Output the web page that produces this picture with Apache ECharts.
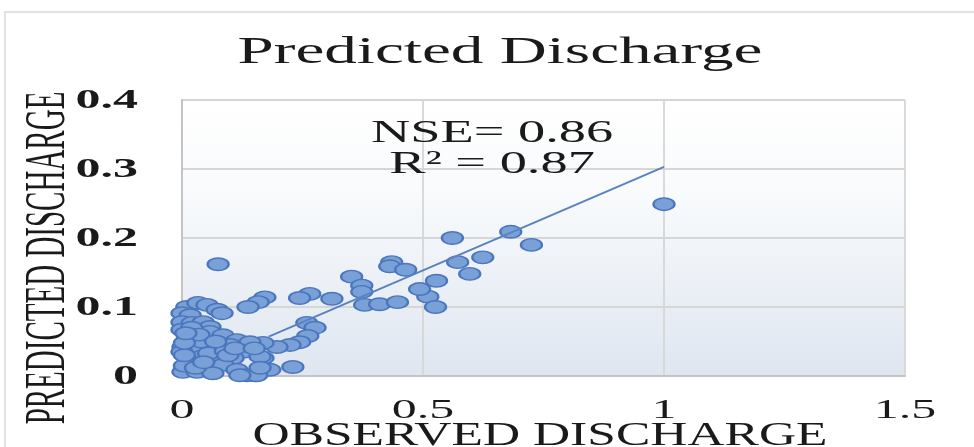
<!DOCTYPE html>
<html><head><meta charset="utf-8">
<script src="https://cdn.jsdelivr.net/npm/echarts/dist/echarts.min.js"></script>
<style>html,body{margin:0;padding:0;background:#fff}#c{width:974px;height:447px}</style>
</head><body><div id="c"></div>
<script>
// ---- data ----
const observedDischarge = [
  1.000, 0.561, 0.682, 0.725, 0.624, 0.572, 0.597, 0.528, 0.510, 0.526,
  0.493, 0.435, 0.431, 0.464, 0.352, 0.373, 0.373, 0.379, 0.410, 0.447,
  0.311, 0.265, 0.244, 0.172, 0.158, 0.137, 0.259, 0.276, 0.261, 0.244,
  0.224, 0.197, 0.168, 0.168, 0.182, 0.230, 0.151, 0.141, 0.075, 0.010,
  0.033, 0.052, 0.073, 0.083, 0.000, 0.017, 0.000, 0.021, 0.044, 0.058,
  0.058, 0.085, 0.114, 0.141, 0.010, 0.002, 0.031, 0.062, 0.100, 0.126,
  0.162, 0.012, 0.041, 0.072, 0.106, 0.017, 0.048, 0.085, 0.114, 0.002,
  0.031, 0.064, 0.135, 0.155, 0.162, 0.000, 0.000, 0.120, 0.005, 0.025,
  0.040, 0.005, 0.020, 0.035, 0.055, 0.090, 0.005, 0.028, 0.070, 0.095,
  0.110, 0.008, 0.045, 0.150
];
const predictedDischarge = [
  0.249, 0.200, 0.209, 0.190, 0.172, 0.165, 0.148, 0.138, 0.115, 0.100,
  0.126, 0.165, 0.159, 0.154, 0.144, 0.131, 0.122, 0.103, 0.104, 0.107,
  0.112, 0.119, 0.113, 0.114, 0.107, 0.100, 0.077, 0.070, 0.058, 0.049,
  0.045, 0.042, 0.048, 0.026, 0.009, 0.013, 0.001, 0.038, 0.162, 0.100,
  0.106, 0.103, 0.096, 0.091, 0.091, 0.088, 0.078, 0.077, 0.078, 0.071,
  0.064, 0.059, 0.052, 0.049, 0.052, 0.042, 0.042, 0.040, 0.045, 0.035,
  0.028, 0.026, 0.028, 0.023, 0.026, 0.020, 0.013, 0.016, 0.009, 0.006,
  0.006, 0.004, 0.001, 0.001, 0.012, 0.035, 0.067, 0.001, 0.015, 0.058,
  0.050, 0.030, 0.070, 0.060, 0.033, 0.036, 0.048, 0.012, 0.050, 0.030,
  0.040, 0.062, 0.020, 0.040
];
const trendX = [0.18, 1.0];
const trendY = [0.057, 0.303];
const xTickValues = [0, 0.5, 1, 1.5];
const xTickLabels = ['0', '0.5', '1', '1.5'];
const yTickValues = [0, 0.1, 0.2, 0.3, 0.4];
const yTickLabels = ['0', '0.1', '0.2', '0.3', '0.4'];
const chartTitle = 'Predicted Discharge';
const xAxisTitle = 'OBSERVED DISCHARGE';
const yAxisTitle = 'PREDICTED DISCHARGE';
const statLines = ['NSE= 0.86', 'R\u00B2 = 0.87'];

// ---- chart ----
const FONT = '"Liberation Serif", "Times New Roman", serif';
const TXT = '#1a1a1a';
const chart = echarts.init(document.getElementById('c'), null, {renderer: 'canvas'});
const points = observedDischarge.map((x, i) => [x, predictedDischarge[i]]);
const trend = trendX.map((x, i) => [x, trendY[i]]);

chart.setOption({
  animation: false,
  backgroundColor: '#ffffff',
  grid: {
    left: 182, right: 69, top: 100, bottom: 71, show: true, borderWidth: 0,
    backgroundColor: {
      type: 'linear', x: 0, y: 0, x2: 0, y2: 1,
      colorStops: [
        {offset: 0, color: '#ffffff'},
        {offset: 0.35, color: '#f8fafc'},
        {offset: 1, color: '#dfe6f0'}
      ]
    }
  },
  xAxis: {
    type: 'value', min: 0, max: 1.5, interval: 0.5,
    axisLine: {show: true, lineStyle: {color: '#c4c4c4', width: 2}},
    axisTick: {show: false},
    axisLabel: {show: false},
    splitLine: {show: true, lineStyle: {color: '#d6d6d6', width: 1.8}}
  },
  yAxis: {
    type: 'value', min: 0, max: 0.4, interval: 0.1,
    axisLine: {show: true, lineStyle: {color: '#c4c4c4', width: 2}},
    axisTick: {show: false},
    axisLabel: {show: false},
    splitLine: {show: true, lineStyle: {color: '#d6d6d6', width: 1.8}}
  },
  series: [
    {
      type: 'scatter', data: points, symbol: 'circle', symbolSize: [21, 12.5],
      clip: false, z: 2,
      itemStyle: {color: '#7aa0d8', borderColor: '#4a76bd', borderWidth: 1.8, opacity: 1}
    },
    {
      type: 'line', data: trend, showSymbol: false, symbol: 'none', z: 3,
      lineStyle: {color: '#5a82c2', width: 2}
    }
  ]
});

function txt(text, x, y, size, sx, opts) {
  opts = opts || {};
  return {
    type: 'text', x: x, y: y, z: 10,
    scaleX: opts.scaleX !== undefined ? opts.scaleX : sx,
    scaleY: opts.scaleY !== undefined ? opts.scaleY : 1,
    rotation: opts.rotation || 0,
    style: {
      text: text, fill: TXT, fontFamily: FONT, fontSize: size,
      fontWeight: opts.weight || 'normal',
      align: opts.align || 'center', verticalAlign: 'middle'
    }
  };
}

const g = [];
g.push({type: 'rect', shape: {x: 5, y: 12, width: 1000, height: 500},
  style: {fill: 'none', stroke: '#d9d9d9', lineWidth: 1.5}, z: 0, silent: true});
g.push(txt(chartTitle, 500, 53, 37, 1.76));
statLines.forEach((s, i) => g.push(txt(s, 492, 134 + i * 31, 32, 1.7)));
xTickValues.forEach((v, i) => {
  const px = chart.convertToPixel({xAxisIndex: 0}, v);
  g.push(txt(xTickLabels[i], px, 411, 27, 1.85));
});
yTickValues.forEach((v, i) => {
  const py = chart.convertToPixel({yAxisIndex: 0}, v);
  g.push(txt(yTickLabels[i], 138, py + 1, 27, 1.85, {align: 'right', weight: 'bold'}));
});
g.push(txt(xAxisTitle, 540, 436, 33, 1.56));
g.push(txt(yAxisTitle, 49, 258, 29, 1, {rotation: Math.PI / 2, scaleX: 1, scaleY: 2.0}));
chart.setOption({graphic: g});
</script>
</body></html>
